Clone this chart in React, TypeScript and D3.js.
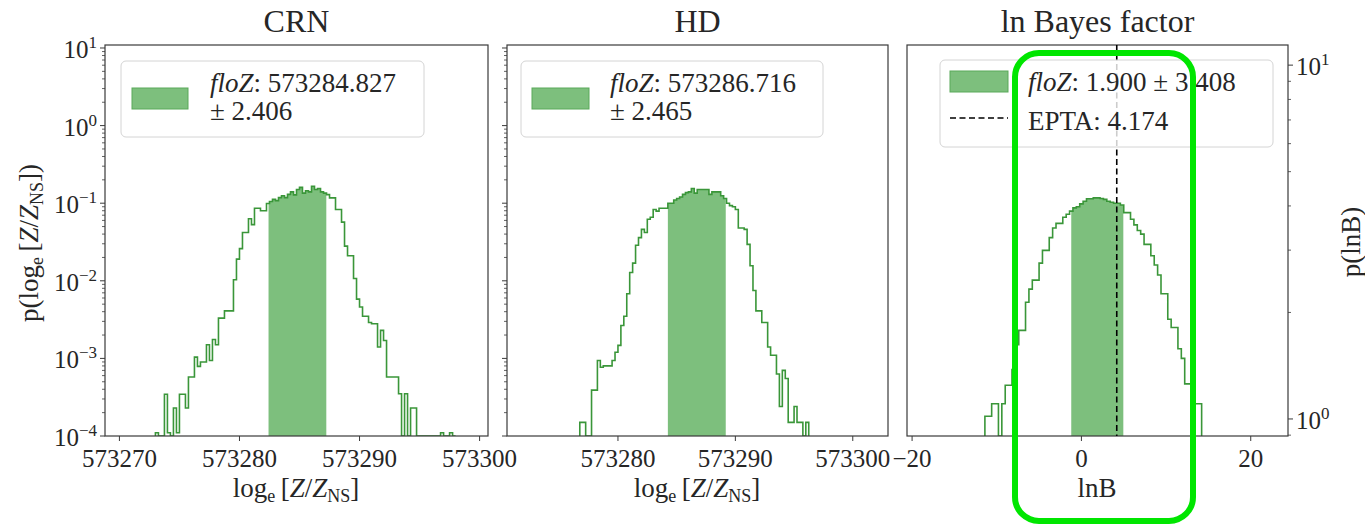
import React from "react";
import * as d3 from "d3";

// ---------------- data ----------------
const titles = ["CRN", "HD", "ln Bayes factor"];

const crnStart = 573273.0;
const crnBinWidth = 0.25;
const crnDensity = [
  1.1e-4, 0, 0, 3.45e-4, 1.1e-4, 0, 2.3e-4, 1.1e-4, 3.45e-4, 3.45e-4,
  2.3e-4, 5.75e-4, 5.75e-4, 1.04e-3, 7.9e-4, 9e-4, 9e-4, 1.5e-3, 9.4e-4, 1.75e-3,
  1.5e-3, 3.3e-3, 3.3e-3, 4.1e-3, 4.1e-3, 4.1e-3, 1.03e-2, 1.9e-2, 2.6e-2, 4.2e-2,
  4.2e-2, 6.3e-2, 5.3e-2, 8.6e-2, 8.6e-2, 8.0e-2, 8.0e-2, 9.9e-2, 0.105, 0.112,
  0.108, 0.118, 0.125, 0.118, 0.13, 0.14, 0.128, 0.15, 0.16, 0.135,
  0.145, 0.14, 0.165, 0.15, 0.155, 0.14, 0.135, 0.129, 0.117, 0.117,
  0.083, 0.083, 0.057, 0.028, 0.021, 0.021, 0.0107, 5.8e-3, 4.6e-3, 3.5e-3,
  3.5e-3, 2.9e-3, 2.8e-3, 2.8e-3, 1.4e-3, 2.3e-3, 1.7e-3, 5.75e-4, 5.75e-4, 5.75e-4,
  5.75e-4, 3.5e-4, 0, 3.5e-4, 0, 2.3e-4, 2.3e-4, 0, 0, 0,
  0, 0, 0, 0, 0, 1.1e-4, 0, 0, 1.1e-4, 0,
];

const hdStart = 573276.75;
const hdBinWidth = 0.25;
const hdDensity = [
  1.5e-4, 1.5e-4, 0, 0, 3.9e-4, 3.9e-4, 9.4e-4, 7.7e-4, 8e-4, 8e-4,
  8e-4, 9.4e-4, 1.2e-3, 1.47e-3, 2.65e-3, 3.5e-3, 6.8e-3, 1.28e-2, 1.69e-2, 2.87e-2,
  3.6e-2, 4.6e-2, 4.2e-2, 6.2e-2, 6.6e-2, 8.3e-2, 7.9e-2, 8.6e-2, 8.6e-2, 8.6e-2,
  0.1, 0.1, 0.11, 0.115, 0.12, 0.13, 0.137, 0.14, 0.155, 0.135,
  0.15, 0.15, 0.15, 0.15, 0.13, 0.14, 0.14, 0.14, 0.125, 0.115,
  0.1, 0.093, 0.09, 0.083, 0.048, 0.048, 0.046, 0.0295, 0.0156, 7.5e-3,
  4.1e-3, 4.1e-3, 2.9e-3, 2.9e-3, 1.4e-3, 1.1e-3, 1.1e-3, 6.3e-4, 2.4e-4, 7e-4,
  5.5e-4, 1.5e-4, 1.5e-4, 2.4e-4, 1.5e-4, 1.5e-4, 0, 1.5e-4,
];

const lnbStart = -11.4;
const lnbBinWidth = 0.4;
const lnbDensity = [
  1.8e-4, 1.8e-4, 2.6e-4, 2.6e-4, 0, 2.6e-4, 4.5e-4, 4.5e-4, 7.2e-4, 1.5e-3,
  2.3e-3, 2.3e-3, 5.3e-3, 7.8e-3, 0.0102, 0.0102, 0.0169, 0.0247, 0.0247, 0.036,
  0.048, 0.055, 0.055, 0.066, 0.072, 0.079, 0.087, 0.09, 0.098, 0.106,
  0.114, 0.114, 0.117, 0.117, 0.115, 0.112, 0.106, 0.103, 0.1, 0.1,
  0.095, 0.0755, 0.0755, 0.062, 0.0525, 0.0445, 0.04, 0.0295, 0.0295, 0.021,
  0.016, 0.0119, 6.8e-3, 6.8e-3, 3.2e-3, 2.5e-3, 2.5e-3, 1.33e-3, 1.0e-3, 4.7e-4,
  4.7e-4, 3e-4, 2.6e-4, 2.6e-4,
];

const crnMean = 573284.827;
const crnStd = 2.406;
const hdMean = 573286.716;
const hdStd = 2.465;
const lnbMean = 1.9;
const lnbStd = 3.408;
const lnbBand = [-1.2, 4.95];
const eptaLnB = 4.174;

const crnXDomain = [573268.8, 573300.7];
const hdXDomain = [573270.55, 573303.0];
const lnbXDomain = [-20.6, 24.4];
const yDomain = [1e-4, 10.93];
const rightYDomain = [0.895, 11.4];

const crnXTicks = [573270, 573280, 573290, 573300];
const hdXTicks = [573280, 573290, 573300];
const lnbXTicks = [-20, 0, 20];
const yTickExps = [-4, -3, -2, -1, 0, 1];
const rightTickExps = [0, 1];

// ---------------- styling ----------------
const FONT = "'Liberation Serif', 'DejaVu Serif', serif";
const TXT = "#262626";
const AX = "#3a3a3a";
const FILL = "#7dbf7d";
const LINE = "#3a9639";
const TOP = 45;
const BOTTOM = 436;
const FS = 25;
const LFS = 27;

const fmtMinus = (n: number) => (n < 0 ? "\u2212" + Math.abs(n) : String(n));

function stepPath(start: number, w: number, vals: number[], x: any, y: any, y0: number) {
  let d = `M${x(start)},${y0}`;
  vals.forEach((v, i) => {
    const yy = v > 0 ? y(v) : y0;
    d += `L${x(start + i * w)},${yy}L${x(start + (i + 1) * w)},${yy}`;
  });
  d += `L${x(start + vals.length * w)},${y0}`;
  return d;
}

function minorLogTicks(domain: number[]) {
  const out: number[] = [];
  const lo = Math.floor(Math.log10(domain[0]));
  const hi = Math.ceil(Math.log10(domain[1]));
  for (let e = lo; e <= hi; e++) {
    for (let k = 2; k <= 9; k++) {
      const v = k * Math.pow(10, e);
      if (v >= domain[0] && v <= domain[1]) out.push(v);
    }
  }
  return out;
}

type PanelProps = {
  id: string;
  x0: number;
  x1: number;
  xDomain: number[];
  xTicks: number[];
  start: number;
  bw: number;
  vals: number[];
  band: number[];
  title: string;
  leftTicks: boolean;
  leftLabels: boolean;
};

function Panel(p: PanelProps) {
  const x = d3.scaleLinear().domain(p.xDomain).range([p.x0, p.x1]);
  const y = d3.scaleLog().domain(yDomain).range([BOTTOM, TOP]);
  const path = stepPath(p.start, p.bw, p.vals, x, y, BOTTOM);
  const cx = (p.x0 + p.x1) / 2;
  return (
    <g>
      <defs>
        <clipPath id={`clip-${p.id}`}>
          <rect x={p.x0} y={TOP} width={p.x1 - p.x0} height={BOTTOM - TOP} />
        </clipPath>
        <clipPath id={`band-${p.id}`}>
          <rect x={x(p.band[0])} y={TOP} width={x(p.band[1]) - x(p.band[0])} height={BOTTOM - TOP} />
        </clipPath>
      </defs>
      <text x={cx} y={32} textAnchor="middle" fontSize={32} fill={TXT}>{p.title}</text>
      <g clipPath={`url(#clip-${p.id})`}>
        <path d={path + "Z"} fill={FILL} stroke="none" clipPath={`url(#band-${p.id})`} />
        <path d={path} fill="none" stroke={LINE} strokeWidth={1.6} strokeLinejoin="miter" />
      </g>
      {p.xTicks.map((t) => (
        <g key={t}>
          <line x1={x(t)} x2={x(t)} y1={BOTTOM} y2={BOTTOM + 5} stroke={AX} strokeWidth={1} />
          <text x={x(t)} y={467} textAnchor="middle" fontSize={FS} fill={TXT}>{fmtMinus(t)}</text>
        </g>
      ))}
      {p.leftTicks &&
        minorLogTicks(yDomain).map((v, i) => (
          <line key={"m" + i} x1={p.x0 - 3} x2={p.x0} y1={y(v)} y2={y(v)} stroke={AX} strokeWidth={0.8} />
        ))}
      {p.leftTicks &&
        yTickExps.map((e) => (
          <g key={e}>
            <line x1={p.x0 - 5} x2={p.x0} y1={y(Math.pow(10, e))} y2={y(Math.pow(10, e))} stroke={AX} strokeWidth={1} />
            {p.leftLabels && (
              <text x={p.x0 - 8} y={y(Math.pow(10, e)) + 10} textAnchor="end" fontSize={FS} fill={TXT}>
                10<tspan dy={-10} fontSize={17}>{fmtMinus(e)}</tspan>
              </text>
            )}
          </g>
        ))}
      <rect x={p.x0} y={TOP} width={p.x1 - p.x0} height={BOTTOM - TOP} fill="none" stroke={AX} strokeWidth={1.2} />
    </g>
  );
}

function ZLabel({ x, y, rotate }: { x: number; y: number; rotate?: boolean }) {
  return (
    <text
      x={0}
      y={0}
      transform={`translate(${x},${y})${rotate ? " rotate(-90)" : ""}`}
      textAnchor="middle"
      fontSize={LFS}
      fill={TXT}
    >
      {rotate ? "p(" : ""}log<tspan dy={5} fontSize={18}>e</tspan>
      <tspan dy={-5}>{"\u2009"}[</tspan>
      <tspan fontStyle="italic">Z</tspan>/<tspan fontStyle="italic">Z</tspan>
      <tspan dy={5} fontSize={18}>NS</tspan>
      <tspan dy={-5}>]{rotate ? ")" : ""}</tspan>
    </text>
  );
}

export default function App() {
  const lnbX = d3.scaleLinear().domain(lnbXDomain).range([907, 1288]);
  const rightY = d3.scaleLog().domain(rightYDomain).range([BOTTOM, TOP]);
  const panels: PanelProps[] = [
    {
      id: "crn", x0: 105, x1: 488, xDomain: crnXDomain, xTicks: crnXTicks, start: crnStart, bw: crnBinWidth,
      vals: crnDensity, band: [crnMean - crnStd, crnMean + crnStd], title: titles[0], leftTicks: true, leftLabels: true,
    },
    {
      id: "hd", x0: 507, x1: 888, xDomain: hdXDomain, xTicks: hdXTicks, start: hdStart, bw: hdBinWidth,
      vals: hdDensity, band: [hdMean - hdStd, hdMean + hdStd], title: titles[1], leftTicks: true, leftLabels: false,
    },
    {
      id: "lnb", x0: 907, x1: 1288, xDomain: lnbXDomain, xTicks: lnbXTicks, start: lnbStart, bw: lnbBinWidth,
      vals: lnbDensity, band: lnbBand, title: titles[2], leftTicks: false, leftLabels: false,
    },
  ];
  return (
    <svg width={1365} height={526} style={{ display: "block", position: "absolute", left: 0, top: 0 }} fontFamily={FONT}>
      <rect width={1365} height={526} fill="#ffffff" />
      {panels.map((p) => (
        <Panel key={p.id} {...p} />
      ))}
      <line x1={lnbX(eptaLnB)} x2={lnbX(eptaLnB)} y1={TOP} y2={BOTTOM} stroke="#000" strokeWidth={1.6} strokeDasharray="6,3.5" />
      {minorLogTicks(rightYDomain).map((v, i) => (
        <line key={"r" + i} x1={1288} x2={1291} y1={rightY(v)} y2={rightY(v)} stroke={AX} strokeWidth={0.8} />
      ))}
      {rightTickExps.map((e) => (
        <g key={"re" + e}>
          <line x1={1288} x2={1293} y1={rightY(Math.pow(10, e))} y2={rightY(Math.pow(10, e))} stroke={AX} strokeWidth={1} />
          <text x={1296} y={rightY(Math.pow(10, e)) + 10} fontSize={FS} fill={TXT}>
            10<tspan dy={-10} fontSize={17}>{e}</tspan>
          </text>
        </g>
      ))}
      <text transform="translate(1360,242) rotate(-90)" textAnchor="middle" fontSize={LFS} fill={TXT}>p(lnB)</text>

      <ZLabel x={38} y={243} rotate />
      <ZLabel x={296} y={497} />
      <ZLabel x={697} y={497} />
      <text x={1097} y={497} textAnchor="middle" fontSize={LFS} fill={TXT}>lnB</text>

      <g>
        <rect x={121} y={61} width={303} height={76} rx={5} fill="#fff" fillOpacity={0.8} stroke="#d4d4d4" />
        <rect x={132} y={88} width={56} height={21} fill={FILL} stroke="#5aa95a" />
        <text x={210} y={92} fontSize={LFS} fill={TXT}>
          <tspan fontStyle="italic">floZ</tspan>: {crnMean.toFixed(3)}
        </text>
        <text x={210} y={120} fontSize={LFS} fill={TXT}>± {crnStd.toFixed(3)}</text>
      </g>
      <g>
        <rect x={521} y={61} width={302} height={76} rx={5} fill="#fff" fillOpacity={0.8} stroke="#d4d4d4" />
        <rect x={532} y={88} width={57} height={21} fill={FILL} stroke="#5aa95a" />
        <text x={610} y={92} fontSize={LFS} fill={TXT}>
          <tspan fontStyle="italic">floZ</tspan>: {hdMean.toFixed(3)}
        </text>
        <text x={610} y={120} fontSize={LFS} fill={TXT}>± {hdStd.toFixed(3)}</text>
      </g>
      <g>
        <rect x={940} y={60} width={333} height={87} rx={5} fill="#fff" fillOpacity={0.8} stroke="#d4d4d4" />
        <rect x={950} y={71} width={58} height={21} fill={FILL} stroke="#5aa95a" />
        <line x1={950} x2={1008} y1={118} y2={118} stroke="#000" strokeWidth={1.6} strokeDasharray="6,3.5" />
        <text x={1028} y={91} fontSize={LFS} fill={TXT}>
          <tspan fontStyle="italic">floZ</tspan>: {lnbMean.toFixed(3)} ± {lnbStd.toFixed(3)}
        </text>
        <text x={1028} y={130} fontSize={LFS} fill={TXT}>EPTA: {eptaLnB.toFixed(3)}</text>
      </g>

      <rect x={1015} y={53} width={178} height={468} rx={24} fill="none" stroke="#00e600" strokeWidth={6} />
    </svg>
  );
}
